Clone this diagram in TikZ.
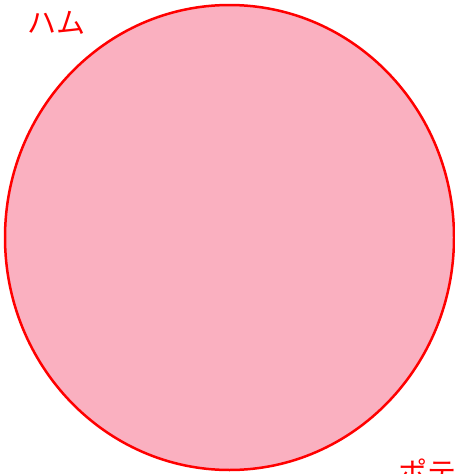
\documentclass[tikz,border=0pt]{standalone}
\usepackage{fontspec}
\newfontfamily\jpfont{Noto Sans CJK JP}
\definecolor{hampink}{RGB}{250,176,192}
\tikzset{
  setlabel/.style={text=red, font=\jpfont\fontsize{29}{29}\selectfont, inner sep=0pt},
  setcircle/.style={draw=red, line width=2.5pt, fill=hampink}
}
\begin{document}
\begin{tikzpicture}[x=1pt,y=-1pt]
\useasboundingbox (0,0) rectangle (455,474);
\clip (0,0) rectangle (455,474);
% set ham
\draw [setcircle] (229.5,237.5) ellipse [x radius=224.5, y radius=232.5];
\node [setlabel] (ham) at (56.5,22.5) {ハム};
% set potato, cut off at the edge
\node [setlabel, anchor=west] (potato) at (398,472) {ポテト};
\end{tikzpicture}
\end{document}
